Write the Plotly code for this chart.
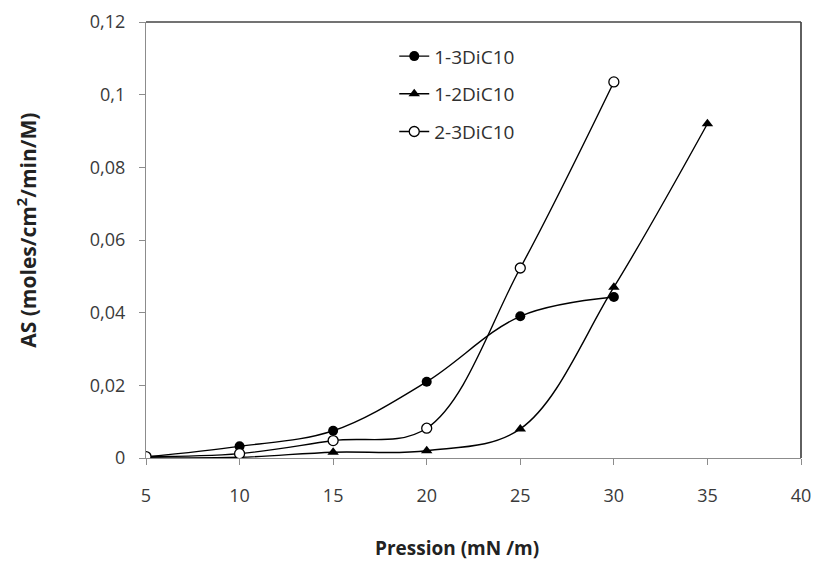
import plotly.graph_objects as go

# Pressure (mN/m) and specific activity for each compound
pression = [5, 10, 15, 20, 25, 30]
pression_12 = [5, 10, 15, 20, 25, 30, 35]
as_13 = [0.0003, 0.0032, 0.0075, 0.021, 0.039, 0.0443]
as_12 = [0.0001, 0.0002, 0.0016, 0.002, 0.008, 0.047, 0.092]
as_23 = [0.0004, 0.0012, 0.0048, 0.0082, 0.0523, 0.1035]

x_ticks = [5, 10, 15, 20, 25, 30, 35, 40]
y_ticks = [0, 0.02, 0.04, 0.06, 0.08, 0.1, 0.12]
y_tick_text = ["0", "0,02", "0,04", "0,06", "0,08", "0,1", "0,12"]

FONT = "'Open Sans', sans-serif"

fig = go.Figure()

series = [
    ("1-3DiC10", pression, as_13, dict(symbol="circle", size=10, color="black")),
    ("1-2DiC10", pression_12, as_12, dict(symbol="triangle-up", size=10, color="black")),
    ("2-3DiC10", pression, as_23, dict(symbol="circle", size=10, color="white",
                                       line=dict(color="black", width=1.3))),
]
for name, xs, ys, mk in series:
    fig.add_trace(go.Scatter(
        x=xs, y=ys, name=name, legendgroup=name,
        mode="lines+markers",
        line=dict(color="black", width=1.4, shape="spline", smoothing=1.0),
        marker=mk,
    ))

axis_common = dict(
    showgrid=False, zeroline=False, showline=True, mirror=False,
    linecolor="#8c8c8c", linewidth=1.3, automargin=False,
    ticks="outside", ticklen=6, tickcolor="#8c8c8c",
    tickfont=dict(family=FONT, size=18, color="#3a3a3a"),
)

fig.update_layout(
    width=813, height=565,
    margin=dict(l=146, r=12, t=22, b=107),
    plot_bgcolor="white", paper_bgcolor="white",
    showlegend=True,
    legend=dict(
        x=0.379, y=0.965, xanchor="left", yanchor="top",
        bgcolor="rgba(255,255,255,0)",
        font=dict(family=FONT, size=19, color="#303030"),
        tracegroupgap=10, traceorder="grouped",
    ),
    xaxis=dict(range=[5, 40], tickvals=x_ticks, ticklabelstandoff=15, **axis_common),
    yaxis=dict(range=[0, 0.12], tickvals=y_ticks, ticktext=y_tick_text,
               ticklabelstandoff=10, **axis_common),
    shapes=[
        # top and right frame of the plot area
        dict(type="line", xref="paper", yref="paper", x0=0, x1=1, y0=1, y1=1,
             line=dict(color="#444444", width=1.7)),
        dict(type="line", xref="paper", yref="paper", x0=1, x1=1, y0=0, y1=1,
             line=dict(color="#444444", width=1.7)),
    ],
    annotations=[
        dict(text="<b>Pression (mN /m)</b>", xref="paper", yref="paper",
             x=0.475, y=-0.206, xanchor="center", yanchor="middle", showarrow=False,
             font=dict(family=FONT, size=19, color="#222222")),
        dict(text="<b>AS (moles/cm<sup>2</sup>/min/M)</b>", xref="paper", yref="paper",
             x=-0.182, y=0.523, xanchor="center", yanchor="middle", showarrow=False,
             textangle=-90, font=dict(family=FONT, size=21, color="#222222")),
    ],
)

fig.write_html("out.html")
